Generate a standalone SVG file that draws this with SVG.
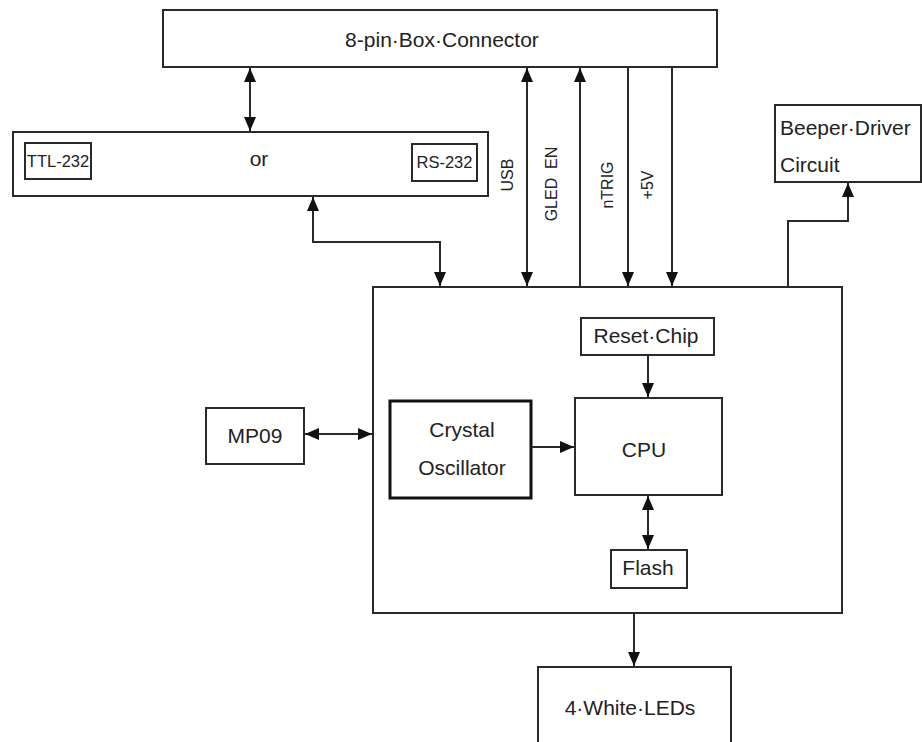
<svg xmlns="http://www.w3.org/2000/svg" width="922" height="742" viewBox="0 0 922 742">
<style>
.box{fill:#fff;stroke:#2a2a2a;stroke-width:2}
.thick{fill:#fff;stroke:#111;stroke-width:3}
.t{font-family:"Liberation Sans",Arial,sans-serif;font-size:21px;fill:#222}
.s{font-family:"Liberation Sans",Arial,sans-serif;font-size:16.5px;fill:#222}
.r{font-family:"Liberation Sans",Arial,sans-serif;font-size:16px;fill:#222}
.c{text-anchor:middle}
.ln{fill:none;stroke:#2a2a2a;stroke-width:2}
</style>
<defs>
<marker id="arr" markerUnits="userSpaceOnUse" markerWidth="14" markerHeight="12" refX="14" refY="6" orient="auto-start-reverse" viewBox="0 0 14 12">
<path d="M0,0 L14,6 L0,12 z" fill="#111"/>
</marker>
</defs>
<rect width="922" height="742" fill="#fff"/>
<g id="main-board">
<rect class="box" x="373" y="287" width="469" height="326"/>
</g>
<g id="box-connector">
<rect class="box" x="163" y="10" width="554" height="57"/>
<text class="t c" x="442" y="47">8-pin·Box·Connector</text>
</g>
<g id="serial">
<rect class="box" x="13" y="132" width="475" height="64"/>
<text class="t c" x="259" y="166">or</text>
</g>
<g id="ttl-232">
<rect class="box" x="25" y="143" width="66" height="36"/>
<text class="s c" x="58" y="167">TTL-232</text>
</g>
<g id="rs-232">
<rect class="box" x="412" y="144" width="65" height="37"/>
<text class="s c" x="444.5" y="168">RS-232</text>
</g>
<g id="beeper">
<rect class="box" x="775" y="105" width="146" height="77"/>
<text class="t" x="780" y="135">Beeper·Driver</text>
<text class="t" x="780" y="172">Circuit</text>
</g>
<g id="reset-chip">
<rect class="box" x="581" y="318" width="133" height="37"/>
<text class="t c" x="646" y="343">Reset·Chip</text>
</g>
<g id="cpu">
<rect class="box" x="575" y="398" width="147" height="97"/>
<text class="t c" x="644" y="457">CPU</text>
</g>
<g id="crystal">
<rect class="thick" x="390" y="401" width="141" height="97"/>
<text class="t c" x="462" y="437">Crystal</text>
<text class="t c" x="462" y="475">Oscillator</text>
</g>
<g id="mp09">
<rect class="box" x="206" y="408" width="98" height="56"/>
<text class="t c" x="255" y="443">MP09</text>
</g>
<g id="flash">
<rect class="box" x="611" y="550" width="76" height="38"/>
<text class="t c" x="648" y="575">Flash</text>
</g>
<g id="leds">
<rect class="box" x="538" y="667" width="193" height="90"/>
<text class="t c" x="630" y="715">4·White·LEDs</text>
</g>
<g id="connectors">
<line class="ln" x1="250" y1="68" x2="250" y2="131" marker-start="url(#arr)" marker-end="url(#arr)"/>
<line class="ln" x1="527" y1="68" x2="527" y2="286" marker-start="url(#arr)" marker-end="url(#arr)"/>
<line class="ln" x1="580" y1="287" x2="580" y2="68" marker-end="url(#arr)"/>
<line class="ln" x1="628" y1="67" x2="628" y2="286" marker-end="url(#arr)"/>
<line class="ln" x1="672" y1="67" x2="672" y2="286" marker-end="url(#arr)"/>
<path class="ln" d="M313,197 V242 H440 V286" marker-start="url(#arr)" marker-end="url(#arr)"/>
<path class="ln" d="M788,287 V221 H848 V183" marker-end="url(#arr)"/>
<line class="ln" x1="305" y1="434" x2="372" y2="434" marker-start="url(#arr)" marker-end="url(#arr)"/>
<line class="ln" x1="532" y1="447" x2="574" y2="447" marker-end="url(#arr)"/>
<line class="ln" x1="648" y1="356" x2="648" y2="397" marker-end="url(#arr)"/>
<line class="ln" x1="648" y1="496" x2="648" y2="549" marker-start="url(#arr)" marker-end="url(#arr)"/>
<line class="ln" x1="634" y1="613" x2="634" y2="666" marker-end="url(#arr)"/>
<text class="r c" transform="translate(513,175) rotate(-90)">USB</text>
<text class="r c" transform="translate(557,184) rotate(-90)" xml:space="preserve">GLED  EN</text>
<text class="r c" transform="translate(613,185) rotate(-90)">nTRIG</text>
<text class="r c" transform="translate(653,185) rotate(-90)">+5V</text>
</g>
</svg>
